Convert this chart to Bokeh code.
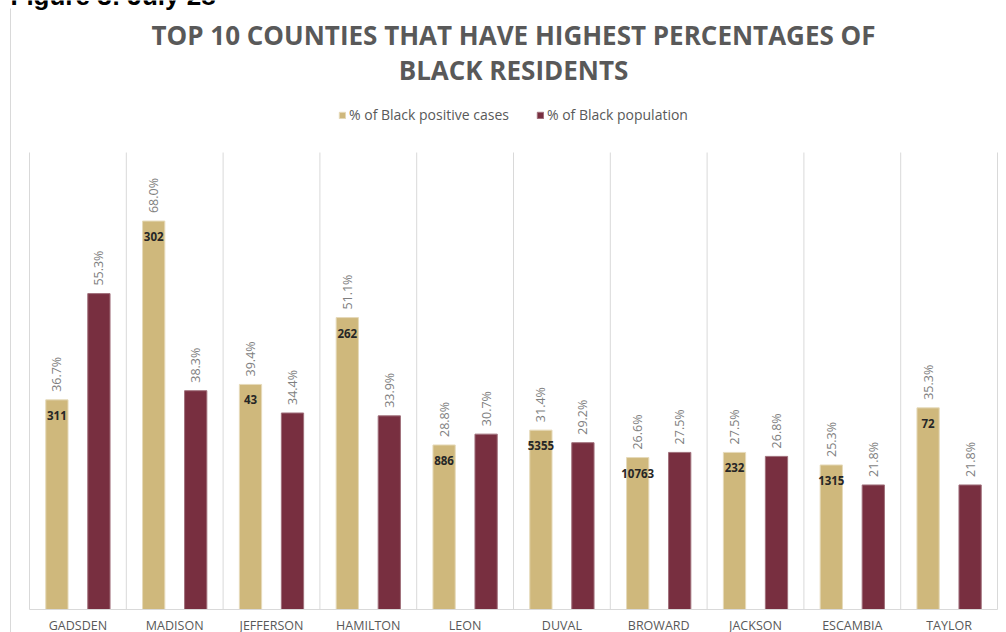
import numpy as np
from bokeh.plotting import figure
from bokeh.models import (ColumnDataSource, Range1d, FixedTicker, Label, LabelSet,
                          Legend, LegendItem)
from bokeh.embed import file_html
from bokeh.resources import INLINE
from bokeh.core.properties import value

# ---- data ----
counties = ["GADSDEN", "MADISON", "JEFFERSON", "HAMILTON", "LEON",
            "DUVAL", "BROWARD", "JACKSON", "ESCAMBIA", "TAYLOR"]
cases_pct = [36.7, 68.0, 39.4, 51.1, 28.8, 31.4, 26.6, 27.5, 25.3, 35.3]
pop_pct = [55.3, 38.3, 34.4, 33.9, 30.7, 29.2, 27.5, 26.8, 21.8, 21.8]
case_counts = [311, 302, 43, 262, 886, 5355, 10763, 232, 1315, 72]
series_names = ["% of Black positive cases", "% of Black population"]
title_lines = ["TOP 10 COUNTIES THAT HAVE HIGHEST PERCENTAGES OF", "BLACK RESIDENTS"]
caption = "Figure 3: July 28"
y_max = 80  # value-axis maximum of the chart

GOLD = "#CFB87C"
MAROON = "#782F40"
GRID = "#D9D9D9"
FONT = "Open Sans"

# ---- layout (pixels) ----
W, H = 1006, 632
PLOT_LEFT, PLOT_RIGHT = 29, 997      # category area
BASE, TOP = 609, 152                 # baseline and top of value area
n = len(counties)
cat_px = (PLOT_RIGHT - PLOT_LEFT) / n
pct_px = (BASE - TOP) / y_max


def xd(px):
    return (px - PLOT_LEFT) / cat_px


def yd(py):
    return (BASE - py) / pct_px


centers = np.arange(n) + 0.5
off = 0.217
bw = 0.23

src = ColumnDataSource(dict(
    xc=centers - off, xp=centers + off,
    cases=cases_pct, pop=pop_pct,
    cases_lbl=[f"{v:.1f}%" for v in cases_pct],
    pop_lbl=[f"{v:.1f}%" for v in pop_pct],
    count_lbl=[str(c) for c in case_counts],
))

p = figure(width=W, height=H, x_range=Range1d(xd(0), xd(W)), y_range=Range1d(yd(H), yd(0)),
           output_backend="svg", toolbar_location=None, tools="",
           min_border=0, min_border_left=0, min_border_right=0,
           min_border_top=0, min_border_bottom=0)
p.title.visible = False
p.outline_line_color = None
p.background_fill_color = "white"
p.border_fill_color = "white"

# category separators
bounds = list(range(n + 1))
p.segment(x0=bounds, y0=[0] * (n + 1), x1=bounds, y1=[y_max] * (n + 1),
          line_color=GRID, line_width=1)

# chart border on the left
p.segment(x0=[xd(10)], y0=[yd(8)], x1=[xd(10)], y1=[yd(H)], line_color=GRID, line_width=1)

r1 = p.vbar(x="xc", top="cases", width=bw, source=src, fill_color=GOLD,
            line_color="#E6DABA", line_width=1)
r2 = p.vbar(x="xp", top="pop", width=bw, source=src, fill_color=MAROON,
            line_color="#A0707B", line_width=1)

# axes
p.yaxis.visible = False
p.grid.visible = False
xa = p.xaxis[0]
xa.fixed_location = 0
xa.bounds = (0, n)
xa.ticker = FixedTicker(ticks=list(centers))
xa.major_label_overrides = {float(c): name for c, name in zip(centers, counties)}
xa.major_tick_line_color = None
xa.major_tick_out = 0
xa.major_tick_in = 0
xa.minor_tick_line_color = None
xa.axis_line_color = GRID
xa.axis_line_width = 1
xa.major_label_standoff = 7
xa.major_label_text_font = FONT
xa.major_label_text_font_size = "12.5px"
xa.major_label_text_color = "#595959"

# data labels
lbl_kw = dict(angle=90, angle_units="deg", text_align="left", text_baseline="middle",
              text_color="#7F7F7F", text_font=value(FONT), text_font_size="12.5px",
              y_offset=8)
p.add_layout(LabelSet(x="xc", y="cases", text="cases_lbl", source=src, **lbl_kw))
p.add_layout(LabelSet(x="xp", y="pop", text="pop_lbl", source=src, **lbl_kw))
p.add_layout(LabelSet(x="xc", y="cases", text="count_lbl", source=src,
                      text_align="center", text_baseline="top", y_offset=-11,
                      text_color="#262626", text_font=value(FONT),
                      text_font_size="11.5px", text_font_style="bold"))

# legend
legend = Legend(items=[LegendItem(label=series_names[0], renderers=[r1]),
                       LegendItem(label=series_names[1], renderers=[r2])],
                orientation="horizontal", location=(338, H - 124),
                glyph_width=8, glyph_height=8, label_height=14,
                label_text_font=FONT, label_text_font_size="14px",
                label_text_color="#595959", spacing=27, padding=0, margin=0,
                label_standoff=3, border_line_color=None, background_fill_alpha=0)
p.add_layout(legend)

# titles
title_kw = dict(text_align="center", text_baseline="middle", text_font=FONT,
                text_font_size="26px", text_font_style="bold", text_color="#595959")
p.add_layout(Label(x=n / 2, y=yd(34), text=title_lines[0], **title_kw))
p.add_layout(Label(x=n / 2, y=yd(69), text=title_lines[1], **title_kw))
p.add_layout(Label(x=xd(10), y=yd(-5), text=caption, text_align="left",
                   text_baseline="alphabetic", text_font="Liberation Sans",
                   text_font_size="26px", text_font_style="bold", text_color="#000000"))

open("out.html", "w").write(file_html(p, INLINE))
